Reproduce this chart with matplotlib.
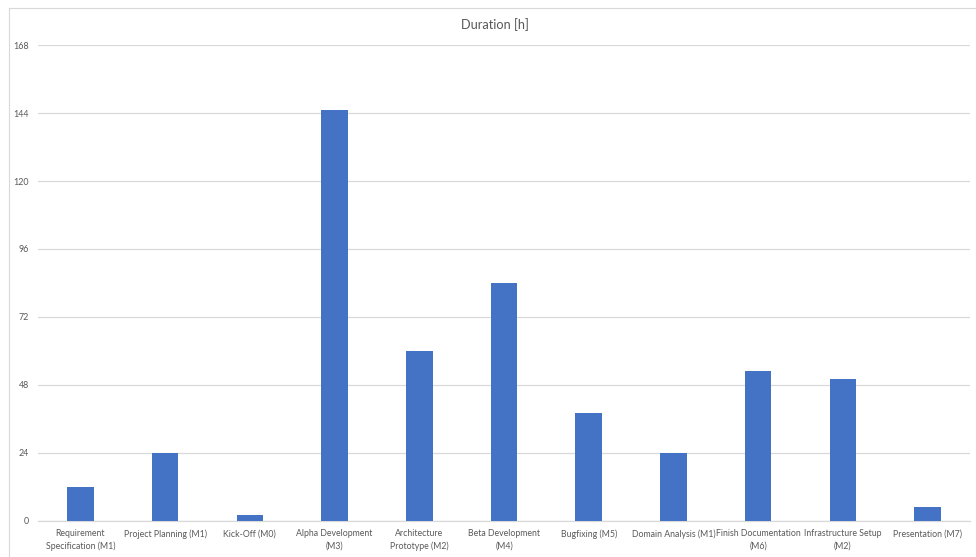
import matplotlib
matplotlib.use("Agg")
import matplotlib.pyplot as plt
from matplotlib.lines import Line2D
import numpy as np

# Task durations in hours
tasks = [
    "Requirement\nSpecification (M1)",
    "Project Planning (M1)",
    "Kick-Off (M0)",
    "Alpha Development\n(M3)",
    "Architecture\nPrototype (M2)",
    "Beta Development\n(M4)",
    "Bugfixing (M5)",
    "Domain Analysis (M1)",
    "Finish Documentation\n(M6)",
    "Infrastructure Setup\n(M2)",
    "Presentation (M7)",
]
hours = [12, 24, 2, 145, 60, 84, 38, 24, 53, 50, 5]
y_ticks = [0, 24, 48, 72, 96, 120, 144, 168]

BAR = "#4472C4"
GRID = "#D9D9D9"
TEXT = "#595959"

plt.rcParams["font.family"] = ["Lato", "DejaVu Sans"]

fig = plt.figure(figsize=(9.76, 5.57), dpi=100)
W, H = 976, 557
ax = fig.add_axes([38 / W, 1 - 521 / H, (970 - 38) / W, (521 - 45) / H])

x = np.arange(len(tasks))
ax.bar(x, hours, width=0.313, color=BAR, zorder=3)

ax.set_xlim(-0.5, len(tasks) - 0.5)
ax.set_ylim(0, 168)
ax.set_yticks(y_ticks)
ax.set_yticklabels([str(v) for v in y_ticks], fontsize=6.4, color=TEXT)
ax.set_xticks(x)
ax.set_xticklabels(tasks, fontsize=6.3, color=TEXT, linespacing=1.45)
ax.tick_params(axis="both", length=0)
ax.tick_params(axis="y", pad=6.5)
ax.tick_params(axis="x", pad=6)

ax.grid(axis="y", color=GRID, linewidth=0.9, zorder=0)
for side in ("top", "right", "left"):
    ax.spines[side].set_visible(False)
ax.spines["bottom"].set_color(GRID)
ax.spines["bottom"].set_linewidth(0.9)

fig.text(495 / W, 1 - 25 / H, "Duration [h]", ha="center", va="center",
         fontsize=9.2, color=TEXT)

# chart frame edges at the left and top
fig.add_artist(Line2D([9 / W, 9 / W], [0, 1 - 8 / H], transform=fig.transFigure,
                      color="#D9D9D9", linewidth=0.8))
fig.add_artist(Line2D([9 / W, 1], [1 - 8 / H, 1 - 8 / H], transform=fig.transFigure,
                      color="#D9D9D9", linewidth=0.8))

fig.savefig("out.png", dpi=100, facecolor="white")
